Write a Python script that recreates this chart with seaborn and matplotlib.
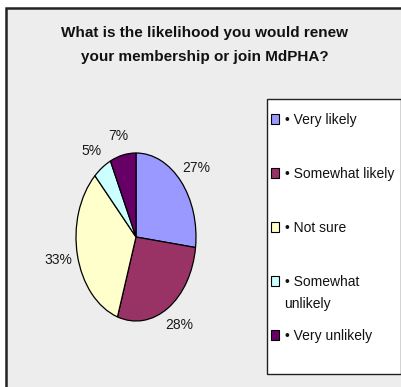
import numpy as np
import matplotlib
matplotlib.use("Agg")
import matplotlib.pyplot as plt
from matplotlib.patches import Rectangle
import seaborn as sns

categories = ["Very likely", "Somewhat likely", "Not sure", "Somewhat\nunlikely", "Very unlikely"]
values = [27, 28, 33, 5, 7]
colors = ["#9999FF", "#993366", "#FFFFCC", "#CCFFFF", "#660066"]
title_lines = ["What is the likelihood you would renew", "your membership or join MdPHA?"]

sns.set_style("white")
plt.rcParams["font.family"] = ["Liberation Sans", "DejaVu Sans"]
palette = sns.color_palette(colors)

W, H = 402, 387
fig = plt.figure(figsize=(W / 100, H / 100), dpi=100)
fig.patch.set_facecolor("white")

def px(x0, y0):
    return x0 / W, 1 - y0 / H

# outer chart area
bg = Rectangle(px(6, 420), 450 / W, 412 / H, transform=fig.transFigure,
               facecolor="#EDEDED", edgecolor="#222222", linewidth=1.8, zorder=-2)
fig.patches.append(bg)

# title
fig.text(*px(205, 33), title_lines[0], ha="center", va="center",
         fontsize=11, fontweight="bold", color="#111111")
fig.text(*px(205, 57), title_lines[1], ha="center", va="center",
         fontsize=11, fontweight="bold", color="#111111")

# pie axes (elliptical)
left, right, top, bottom = 76, 196, 153, 321
ax = fig.add_axes([left / W, 1 - bottom / H, (right - left) / W, (bottom - top) / H])
ax.set_zorder(2)
ax.patch.set_alpha(0)
wedges, texts, autotexts = ax.pie(
    values, colors=palette, startangle=90, counterclock=False,
    autopct=lambda p: f"{p:.0f}%", pctdistance=1.2,
    wedgeprops=dict(edgecolor="black", linewidth=0.9),
    textprops=dict(fontsize=10, color="#1a1a1a"),
)
ax.set_aspect("auto")
ax.set_xlim(-1, 1)
ax.set_ylim(-1, 1)
ax.axis("off")

rx = (right - left) / 2
ry = (bottom - top) / 2
k = 20
for w, t in zip(wedges, autotexts):
    ang = np.deg2rad((w.theta1 + w.theta2) / 2)
    t.set_position((np.cos(ang) * (1 + k / rx), np.sin(ang) * (1 + k / ry)))
    t.set_ha("center")
    t.set_va("center")

# legend frame
frame = Rectangle(px(267, 374), (401 - 267) / W, (374 - 99) / H, transform=fig.transFigure,
                  facecolor="white", edgecolor="#222222", linewidth=1.0, zorder=-1)
fig.patches.append(frame)

# legend: first line of each label inside the legend, continuation lines wrapped below
first_lines = ["\u2022 " + c.split("\n")[0] for c in categories]
leg = fig.legend(wedges, first_lines, loc="upper left", bbox_to_anchor=px(271, 113),
                 frameon=False, fontsize=10, handlelength=0.58, handleheight=0.65,
                 handletextpad=0.4, labelspacing=2.88, borderpad=0, borderaxespad=0)
leg.set_zorder(3)
for h in leg.legend_handles:
    h.set_edgecolor("black")
    h.set_linewidth(0.8)
for t in leg.get_texts():
    t.set_color("#111111")

fig.canvas.draw()
renderer = fig.canvas.get_renderer()
for c, t in zip(categories, leg.get_texts()):
    extra = c.split("\n")[1:]
    if not extra:
        continue
    bb = t.get_window_extent(renderer)
    for i, line in enumerate(extra, start=1):
        fig.text(bb.x0 / W, (bb.y0 - 22 * i + bb.height / 2) / H * 1, line,
                 transform=fig.transFigure, ha="left", va="center",
                 fontsize=10, color="#111111", zorder=4)

fig.savefig("out.png", dpi=100)
